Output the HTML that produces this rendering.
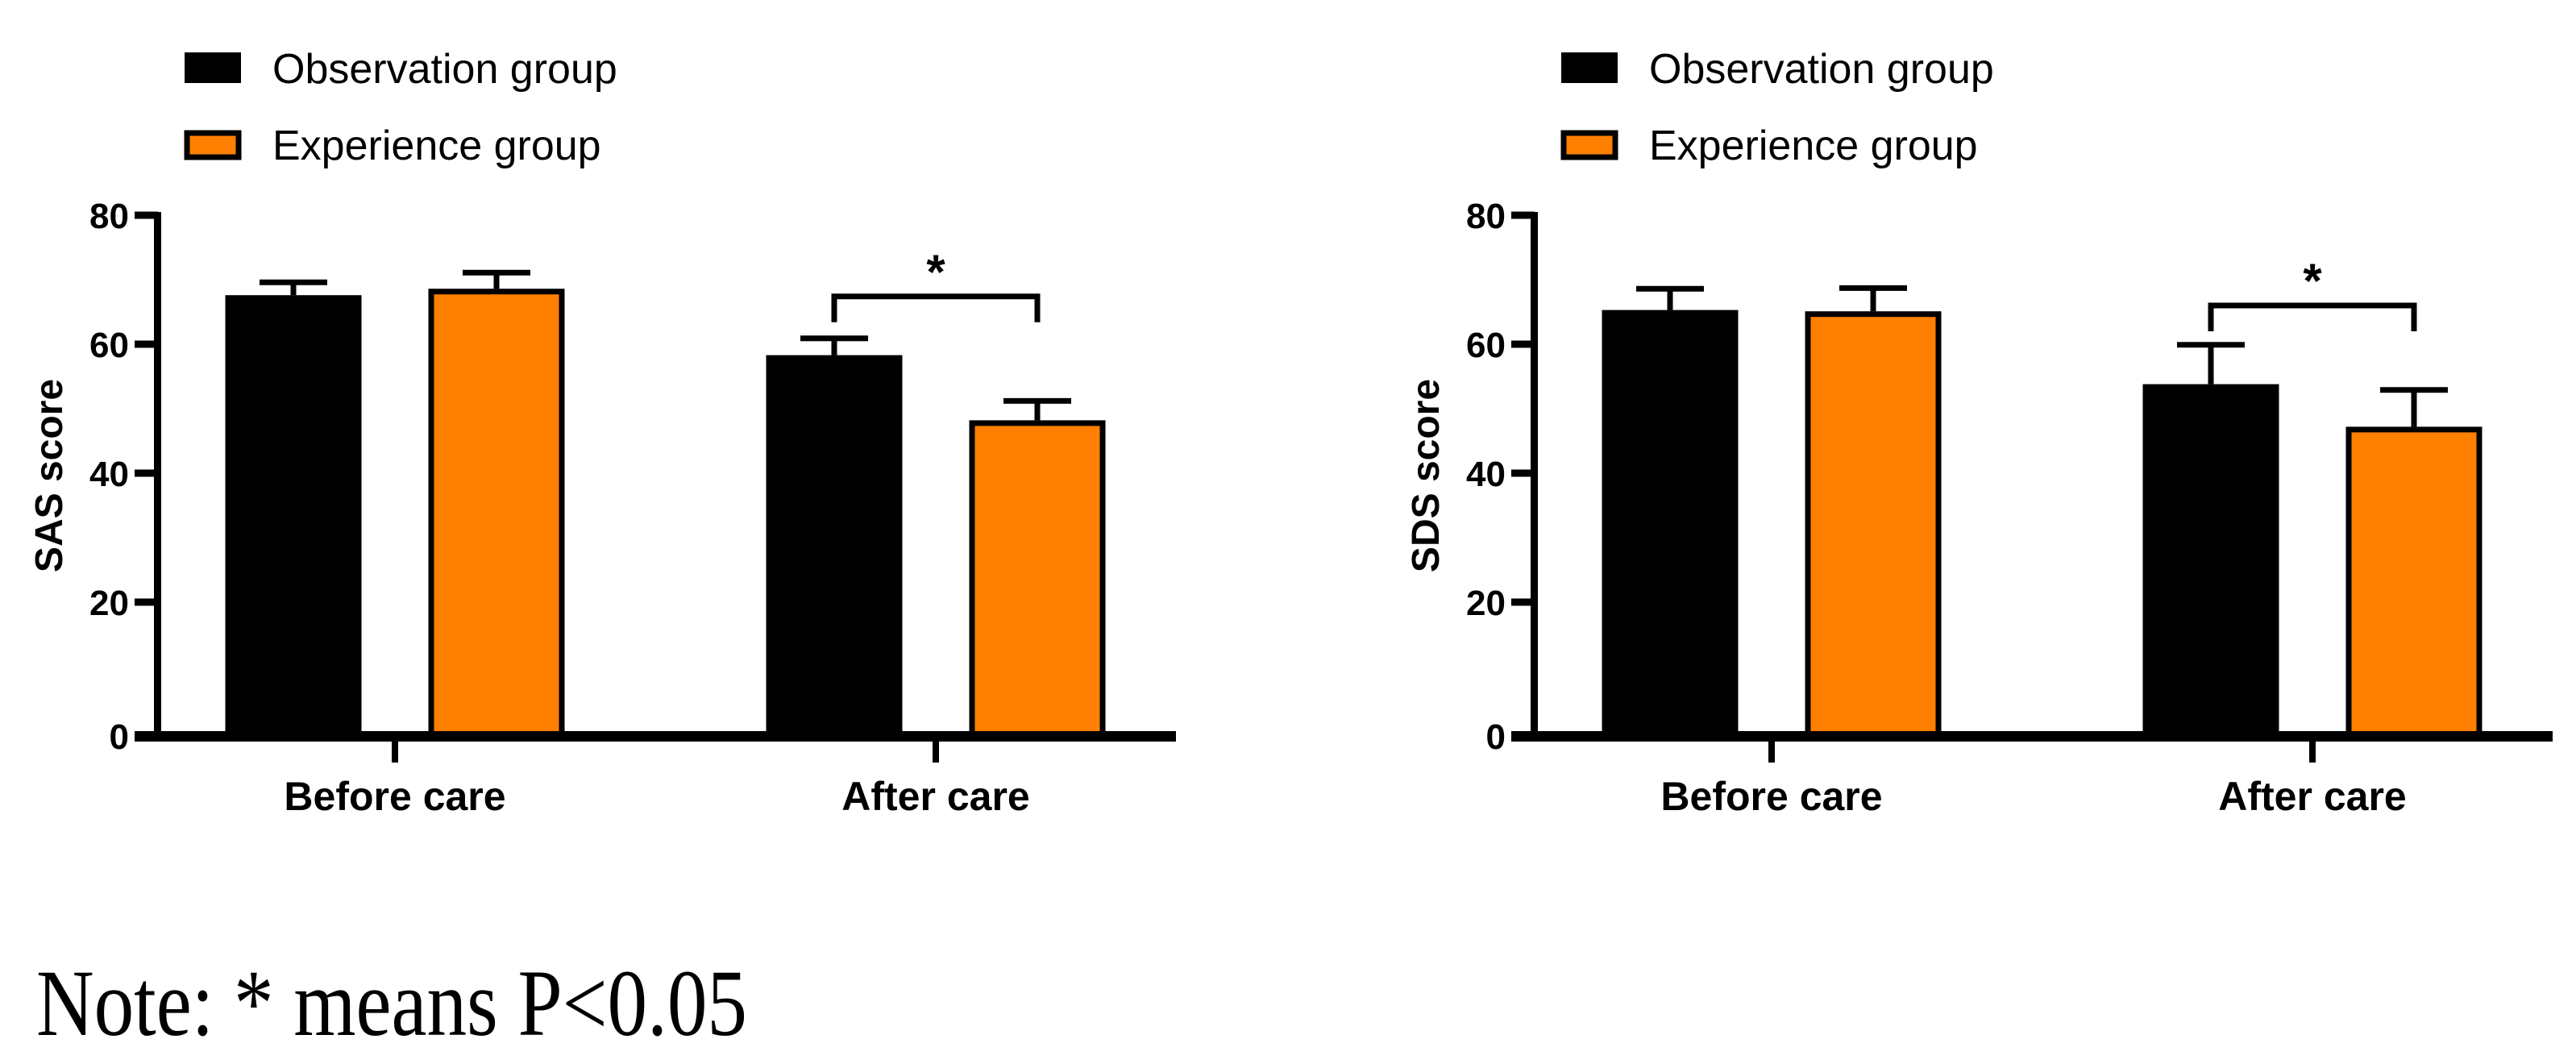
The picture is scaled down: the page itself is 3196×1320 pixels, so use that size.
<!DOCTYPE html>
<html><head><meta charset="utf-8"><style>
html,body{margin:0;padding:0;background:#fff;}
svg{display:block;font-family:"Liberation Sans",sans-serif;}
</style></head><body>
<svg id="chart" width="3196" height="1320" viewBox="0 0 3196 1320" xmlns="http://www.w3.org/2000/svg">
<rect width="3196" height="1320" fill="#fff"/>
<text x="45" y="1284" font-family="Liberation Serif, serif" font-size="118" textLength="882" lengthAdjust="spacingAndGlyphs">Note: * means P&lt;0.05</text>
</svg>
<script>
const categories = ["Before care", "After care"];
const seriesNames = ["Observation group", "Experience group"];
const sasObs = [67.6, 58.3];
const sasObsErr = [2.0, 2.6];
const sasExp = [68.6, 48.2];
const sasExpErr = [2.5, 3.0];
const sdsObs = [65.3, 53.8];
const sdsObsErr = [3.3, 6.1];
const sdsExp = [65.1, 47.2];
const sdsExpErr = [3.6, 5.7];
const yTicks = [0, 20, 40, 60, 80];
const sasBracket = [67.4];
const sdsBracket = [66.0];

const NS = "http://www.w3.org/2000/svg";
const svg = document.getElementById("chart");
function mk(tag, attrs, parent) {
  const e = document.createElementNS(NS, tag);
  for (const k in attrs) e.setAttribute(k, attrs[k]);
  (parent || svg).appendChild(e);
  return e;
}

function drawPanel(ox, title, obs, obsErr, exp, expErr, bracket, key) {
  const g = mk("g", {});
  
  
  const y0 = 907, pxPerUnit = 8;
  const yS = v => y0 - v * pxPerUnit;
  const catX = i => ox + 490 + i * 671;
  const barW = 169, off = 126;

  const sw1 = mk("rect", {x: ox + 229, y: 65, width: 70, height: 38, fill: "#000"}, g);
  
  
  const lt1 = mk("text", {x: ox + 338, y: 103, "font-size": 52}, g);
  lt1.textContent = seriesNames[0];
  
  
  const sw2 = mk("rect", {x: ox + 232, y: 165, width: 64, height: 30, fill: "#FF8000", stroke: "#000", "stroke-width": 7}, g);
  
  
  const lt2 = mk("text", {x: ox + 338, y: 198, "font-size": 52}, g);
  lt2.textContent = seriesNames[1];
  
  

  for (let i = 0; i < categories.length; i++) {
    const cx1 = catX(i) - off, cx2 = catX(i) + off;
    const e1 = mk("path", {d: `M${cx1} ${yS(obs[i])} V${yS(obs[i] + obsErr[i])} M${cx1 - 42} ${yS(obs[i] + obsErr[i])} H${cx1 + 42}`, stroke: "#000", "stroke-width": 7, fill: "none"}, g);
    
    
    const e2 = mk("path", {d: `M${cx2} ${yS(exp[i])} V${yS(exp[i] + expErr[i])} M${cx2 - 42} ${yS(exp[i] + expErr[i])} H${cx2 + 42}`, stroke: "#000", "stroke-width": 7, fill: "none"}, g);
    
    
    const b1 = mk("rect", {x: cx1 - barW / 2, y: yS(obs[i]), width: barW, height: y0 - yS(obs[i]), fill: "#000"}, g);
    
    
    const b2 = mk("rect", {x: cx2 - barW / 2 + 3.5, y: yS(exp[i]) + 3.5, width: barW - 7, height: y0 - yS(exp[i]), fill: "#FF8000", stroke: "#000", "stroke-width": 7}, g);
    
    
    const cl = mk("text", {x: catX(i), y: 1005, "font-size": 50, "font-weight": "bold", "text-anchor": "middle"}, g);
    cl.textContent = categories[i];
    
    
    const tk = mk("line", {x1: catX(i), y1: 913, x2: catX(i), y2: 946, stroke: "#000", "stroke-width": 8}, g);
    
    
  }

  const ya = mk("line", {x1: ox + 195.5, y1: 263, x2: ox + 195.5, y2: 920, stroke: "#000", "stroke-width": 9}, g);
  
  
  const xa = mk("line", {x1: ox + 167, y1: 913.5, x2: ox + 1459, y2: 913.5, stroke: "#000", "stroke-width": 13}, g);
  
  
  yTicks.forEach(t => {
    const l = mk("line", {x1: ox + 167, y1: yS(t) + (t === 0 ? 6.5 : 0), x2: ox + 196, y2: yS(t) + (t === 0 ? 6.5 : 0), stroke: "#000", "stroke-width": 9}, g);
    
    
    const tx = mk("text", {x: ox + 160, y: yS(t) + 16 + (t === 0 ? 6 : 0), "font-size": 44, "font-weight": "bold", "text-anchor": "end"}, g);
    tx.textContent = t;
    
    
  });
  const yt = mk("text", {x: 0, y: 0, "font-size": 48, "font-weight": "bold", "text-anchor": "middle", transform: `translate(${ox + 77},590) rotate(-90)`}, g);
  yt.textContent = title;
  
  

  const bx1 = catX(1) - off, bx2 = catX(1) + off, by = yS(bracket[0]);
  const br = mk("path", {d: `M${bx1} ${by + 32} V${by} H${bx2} V${by + 32}`, stroke: "#000", "stroke-width": 7, fill: "none"}, g);
  
  
  const st = mk("text", {x: catX(1), y: by - 10, "font-size": 60, "font-weight": "bold", "text-anchor": "middle"}, g);
  st.textContent = "*";
  
  
}

drawPanel(0, "SAS score", sasObs, sasObsErr, sasExp, sasExpErr, sasBracket, "sas");
drawPanel(1708, "SDS score", sdsObs, sdsObsErr, sdsExp, sdsExpErr, sdsBracket, "sds");
</script>
</body></html>
